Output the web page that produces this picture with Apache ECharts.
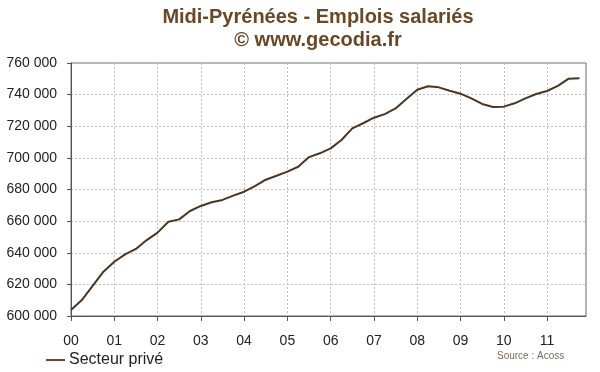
<!DOCTYPE html>
<html>
<head>
<meta charset="utf-8">
<script src="https://cdn.jsdelivr.net/npm/echarts@6/dist/echarts.min.js"></script>
<style>
html,body{margin:0;padding:0;background:#fff;}
#chart{width:600px;height:372px;}
</style>
</head>
<body>
<div id="chart"></div>
<script>
// Quarterly data, 2000 Q1 .. 2011 Q4
const quarters = [];
for (let y = 0; y < 12; y++) for (let q = 1; q <= 4; q++) quarters.push((y < 10 ? '0' : '') + y + ' T' + q);
const yearLabels = ['00','01','02','03','04','05','06','07','08','09','10','11'];
const secteurPrive = [
  603800, 610100, 619000, 628000,
  634300, 639000, 642400, 648000,
  652700, 659600, 661100, 666400,
  669600, 671900, 673400, 676100,
  678600, 682200, 686200, 688700,
  691300, 694400, 700500, 702900,
  706000, 711300, 718700, 721900,
  725400, 727700, 731300, 737300,
  743100, 745300, 744600, 742500,
  740600, 737600, 734100, 732200,
  732400, 734500, 737600, 740400,
  742300, 745500, 750100, 750300
];
const yTicks = [600000, 620000, 640000, 660000, 680000, 700000, 720000, 740000, 760000];

const seriesData = secteurPrive.map((v, i) => [i, v]);
const tickVals = yearLabels.map((_, i) => i * 4);

const chart = echarts.init(document.getElementById('chart'), null, {renderer: 'canvas'});
chart.setOption({
  backgroundColor: '#ffffff',
  animation: false,
  title: {
    text: 'Midi-Pyrénées - Emplois salariés\n© www.gecodia.fr',
    left: 318,
    top: 6,
    padding: 0,
    textAlign: 'center',
    textStyle: {
      fontFamily: 'Liberation Sans, Arial, sans-serif',
      fontSize: 20,
      fontWeight: 'bold',
      color: '#6a4725',
      lineHeight: 23
    }
  },
  legend: {
    left: 46,
    top: 352,
    padding: 0,
    itemWidth: 19,
    itemHeight: 2,
    itemGap: 4,
    icon: 'rect',
    textStyle: {fontFamily: 'Liberation Sans, Arial, sans-serif', fontSize: 16, color: '#222', padding: [0, 0, 0, -1]},
    data: ['Secteur privé']
  },
  graphic: [{
    type: 'text',
    left: 497,
    top: 351,
    style: {text: 'Source : Acoss', font: '10px "Liberation Sans", Arial, sans-serif', fill: '#7d6a58'}
  }],
  grid: {
    left: 71, right: 14, top: 63, bottom: 56,
    show: true, borderColor: '#6a6a6a', borderWidth: 1, backgroundColor: '#fff'
  },
  xAxis: {
    type: 'value',
    min: 0,
    max: 47.6,
    interval: 4,
    axisLine: {lineStyle: {color: '#555', width: 1}},
    axisTick: {show: true, length: 5, lineStyle: {color: '#555'}, customValues: tickVals},
    axisLabel: {
      customValues: tickVals,
      margin: 18,
      fontFamily: 'Liberation Sans, Arial, sans-serif',
      fontSize: 14,
      color: '#222',
      formatter: v => (v % 4 === 0 && v / 4 < yearLabels.length) ? yearLabels[v / 4] : ''
    },
    splitLine: {show: true, lineStyle: {color: '#bdbdbd', type: [2, 2], width: 1}}
  },
  yAxis: {
    type: 'value',
    min: yTicks[0],
    max: yTicks[yTicks.length - 1],
    interval: 20000,
    axisLine: {show: true, lineStyle: {color: '#555', width: 1}},
    axisTick: {show: true, length: 4, lineStyle: {color: '#555'}},
    axisLabel: {
      margin: 14,
      fontFamily: 'Liberation Sans, Arial, sans-serif',
      fontSize: 14,
      color: '#222',
      formatter: v => (v / 1000) + ' 000'
    },
    splitLine: {show: true, lineStyle: {color: '#bdbdbd', type: [2, 2], width: 1}}
  },
  series: [{
    name: 'Secteur privé',
    type: 'line',
    data: seriesData,
    showSymbol: false,
    symbol: 'none',
    smooth: false,
    lineStyle: {color: '#4d3520', width: 2},
    itemStyle: {color: '#6a4725'}
  }]
});
</script>
</body>
</html>
